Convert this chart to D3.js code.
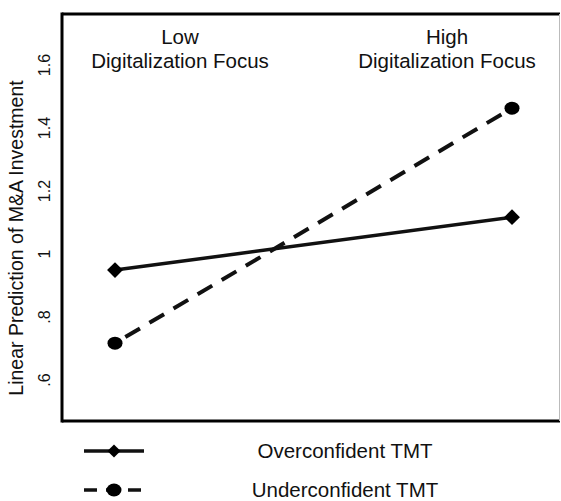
<!DOCTYPE html>
<head>
  <meta charset="utf-8">
  <script src="https://d3js.org/d3.v7.min.js"></script>
  <style>
    body { margin: 0; background: #fff; }
    svg { display: block; }
    text { font-family: Arial, "Liberation Sans", sans-serif; fill: #111; }
  </style>
</head>
<body>
  <svg width="561" height="501"></svg>
  <script>
    var categories = ['Low', 'High'];
    var overconfident = [0.949, 1.117];
    var underconfident = [0.717, 1.463];
    var yTicks = [0.6, 0.8, 1, 1.2, 1.4, 1.6];
    var seriesNames = ['Overconfident TMT', 'Underconfident TMT'];
    var yTitle = 'Linear Prediction of M&A Investment';

    var width = 561, height = 501;
    var box = { left: 62, top: 14, right: 560, bottom: 421 };

    var svg = d3.select('svg');

    var xScale = d3.scalePoint()
      .domain(categories)
      .range([115, 512]);

    var yScale = d3.scaleLinear()
      .domain([0.47, 1.762])
      .range([box.bottom, box.top]);

    // plot frame
    svg.append('line').attr('x1', box.left).attr('x2', box.left)
      .attr('y1', box.top - 1.5).attr('y2', box.bottom + 1.5)
      .attr('stroke', '#000').attr('stroke-width', 3);
    svg.append('line').attr('x1', box.left).attr('x2', box.right)
      .attr('y1', box.top).attr('y2', box.top)
      .attr('stroke', '#000').attr('stroke-width', 3);
    svg.append('line').attr('x1', box.left).attr('x2', box.right)
      .attr('y1', box.bottom).attr('y2', box.bottom)
      .attr('stroke', '#000').attr('stroke-width', 3);
    svg.append('line').attr('x1', box.right - 0.5).attr('x2', box.right - 0.5)
      .attr('y1', box.top).attr('y2', box.bottom)
      .attr('stroke', '#bbb').attr('stroke-width', 1);

    // y tick labels (rotated, no tick marks)
    var fmt = function (d) {
      return d === 1 ? '1' : d3.format('.1f')(d).replace(/^0/, '');
    };
    svg.selectAll('.ytick')
      .data(yTicks)
      .enter()
      .append('text')
      .attr('class', 'ytick')
      .attr('transform', function (d) { return 'translate(50,' + yScale(d) + ') rotate(-90)'; })
      .attr('text-anchor', 'middle')
      .style('font-size', '16px')
      .text(fmt);

    svg.append('text')
      .attr('transform', 'translate(23,238) rotate(-90)')
      .attr('text-anchor', 'middle')
      .style('font-size', '19.5px')
      .text(yTitle);

    // category labels, two lines each
    var catX = [180, 447];
    categories.forEach(function (c, i) {
      svg.append('text')
        .attr('x', catX[i]).attr('y', 44)
        .attr('text-anchor', 'middle')
        .style('font-size', '20.5px')
        .text(c);
      svg.append('text')
        .attr('x', catX[i]).attr('y', 67.5)
        .attr('text-anchor', 'middle')
        .style('font-size', '20.5px')
        .text('Digitalization Focus');
    });

    var line = d3.line()
      .x(function (d, i) { return xScale(categories[i]); })
      .y(function (d) { return yScale(d); });

    var diamond = d3.symbol().type(d3.symbolDiamond2);

    // overconfident series: solid with diamonds
    svg.append('path')
      .datum(overconfident)
      .attr('d', line)
      .attr('fill', 'none')
      .attr('stroke', '#111')
      .attr('stroke-width', 3.5);

    svg.selectAll('.dia')
      .data(overconfident)
      .enter()
      .append('path')
      .attr('class', 'dia')
      .attr('d', diamond.size(160))
      .attr('transform', function (d, i) {
        return 'translate(' + xScale(categories[i]) + ',' + yScale(d) + ')';
      })
      .attr('fill', '#000');

    // underconfident series: dashed with circles
    svg.append('path')
      .datum(underconfident)
      .attr('d', line)
      .attr('fill', 'none')
      .attr('stroke', '#111')
      .attr('stroke-width', 4)
      .attr('stroke-dasharray', '17,11')
      .attr('stroke-dashoffset', -12);

    svg.selectAll('.dot')
      .data(underconfident)
      .enter()
      .append('ellipse')
      .attr('class', 'dot')
      .attr('cx', function (d, i) { return xScale(categories[i]); })
      .attr('cy', function (d) { return yScale(d); })
      .attr('rx', 7.5)
      .attr('ry', 6.5)
      .attr('fill', '#000');

    // legend
    var leg = [{ y: 451, dash: null }, { y: 490, dash: '13,9' }];
    leg.forEach(function (l, i) {
      svg.append('line')
        .attr('x1', 84).attr('x2', 144)
        .attr('y1', l.y).attr('y2', l.y)
        .attr('stroke', '#111')
        .attr('stroke-width', 3.5)
        .attr('stroke-dasharray', l.dash);
      if (i === 0) {
        svg.append('path')
          .attr('d', diamond.size(110))
          .attr('transform', 'translate(114,' + l.y + ')')
          .attr('fill', '#000');
      } else {
        svg.append('ellipse')
          .attr('cx', 114).attr('cy', l.y)
          .attr('rx', 7.5).attr('ry', 6.5)
          .attr('fill', '#000');
      }
      svg.append('text')
        .attr('x', 345)
        .attr('y', l.y + 7)
        .attr('text-anchor', 'middle')
        .style('font-size', '20.5px')
        .text(seriesNames[i]);
    });
  </script>
</body>
